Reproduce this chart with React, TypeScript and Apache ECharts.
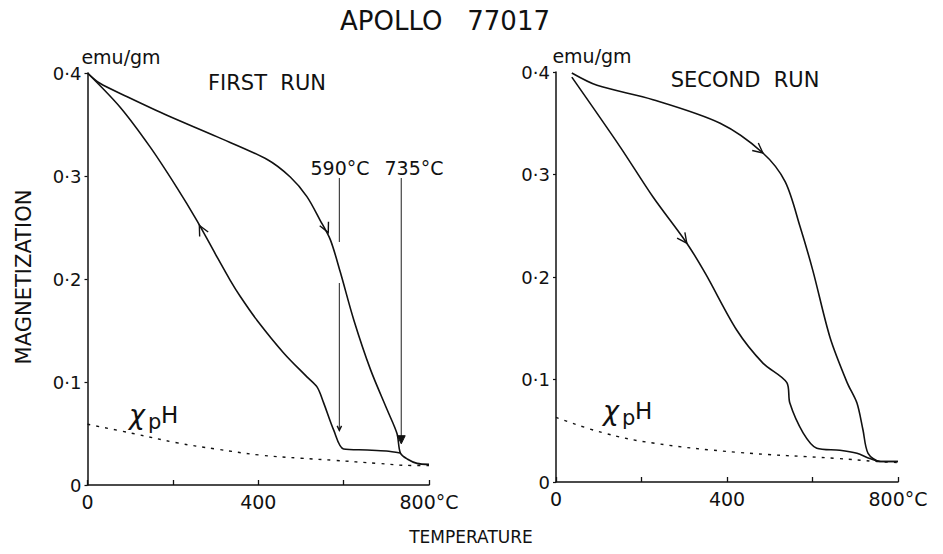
import React, { useEffect, useRef } from "react";
import * as echarts from "echarts";

// ---- axes ----
const tempTicks = [0, 200, 400, 600, 800];
const tempTickLabels = ["0", "", "400", "", "800°C"];
const magTicks = [0, 0.1, 0.2, 0.3, 0.4];
const magTickLabels = ["0", "0·1", "0·2", "0·3", "0·4"];

// ---- FIRST RUN ----
const run1HeatT = [0, 29, 93, 186, 304, 421, 475, 514, 545, 569, 592, 624, 663, 702, 725, 733, 750, 772, 800];
const run1HeatM = [0.4, 0.39, 0.377, 0.359, 0.338, 0.316, 0.299, 0.28, 0.257, 0.238, 0.207, 0.16, 0.112, 0.073, 0.05, 0.031, 0.025, 0.021, 0.02];
const run1CoolT = [0, 76, 147, 209, 256, 300, 334, 358, 397, 460, 514, 538, 553, 577, 600, 655, 700, 733];
const run1CoolM = [0.4, 0.367, 0.328, 0.289, 0.257, 0.224, 0.199, 0.183, 0.16, 0.128, 0.105, 0.095, 0.08, 0.053, 0.035, 0.034, 0.033, 0.031];
const run1ParaT = [0, 107, 209, 300, 405, 500, 577, 680, 757, 800];
const run1ParaM = [0.059, 0.05, 0.041, 0.035, 0.029, 0.026, 0.024, 0.021, 0.019, 0.019];

// Curie point markers (°C) and their vertical extents
const curie590T = 590;
const curie590Segments = [[0.298, 0.236], [0.196, 0.053]];
const curie735T = 735;
const curie735Segment = [0.298, 0.044];

// arrows: [tipT, tipM, tailT, tailM]
const run1Arrows = [
  [564, 0.245, 545, 0.262],
  [262, 0.252, 300, 0.222],
];
const run1SmallArrows = [[590, 0.053, 590, 0.07]];
const run1FilledArrows = [[735, 0.04, 735, 0.062]];

// ---- SECOND RUN ----
const run2HeatT = [37, 96, 227, 384, 484, 536, 571, 601, 641, 681, 704, 718, 730, 758, 800];
const run2HeatM = [0.399, 0.387, 0.373, 0.35, 0.321, 0.293, 0.249, 0.206, 0.141, 0.097, 0.077, 0.051, 0.028, 0.02, 0.02];
const run2CoolT = [37, 150, 227, 306, 350, 423, 484, 540, 547, 578, 610, 664, 704, 734, 760, 800];
const run2CoolM = [0.395, 0.327, 0.278, 0.233, 0.203, 0.148, 0.116, 0.097, 0.077, 0.048, 0.033, 0.031, 0.028, 0.023, 0.02, 0.02];
const run2ParaT = [0, 110, 227, 423, 657, 751, 800];
const run2ParaM = [0.063, 0.048, 0.038, 0.029, 0.023, 0.02, 0.019];
const run2Arrows = [
  [484, 0.321, 440, 0.336],
  [306, 0.233, 227, 0.278],
];

const zip = (xs: number[], ys: number[]) => xs.map((x, i) => [x, ys[i]]);

const FONT = "DejaVu Sans";
const INK = "#111";

function arrowSeries(data: number[][], axis: number, len: number, filled: boolean) {
  return {
    type: "custom",
    xAxisIndex: axis,
    yAxisIndex: axis,
    silent: true,
    z: 5,
    data,
    renderItem: (params: any, api: any) => {
      const tip = api.coord([api.value(0), api.value(1)]);
      const tail = api.coord([api.value(2), api.value(3)]);
      const ang = Math.atan2(tip[1] - tail[1], tip[0] - tail[0]);
      const spread = (26 * Math.PI) / 180;
      const a1 = [tip[0] - len * Math.cos(ang - spread), tip[1] - len * Math.sin(ang - spread)];
      const a2 = [tip[0] - len * Math.cos(ang + spread), tip[1] - len * Math.sin(ang + spread)];
      if (filled) {
        return {
          type: "polygon",
          shape: { points: [a1, tip, a2] },
          style: { fill: INK, stroke: INK, lineWidth: 1 },
        };
      }
      return {
        type: "polyline",
        shape: { points: [a1, tip, a2] },
        style: { fill: "none", stroke: INK, lineWidth: 1.4 },
      };
    },
  };
}

function xAxis(grid: number) {
  return {
    type: "value",
    gridIndex: grid,
    min: 0,
    max: 800,
    interval: 200,
    axisLine: { show: true, lineStyle: { color: INK, width: 1.5 } },
    axisTick: { show: true, inside: true, length: 5, lineStyle: { color: INK, width: 1.3 } },
    splitLine: { show: false },
    axisLabel: {
      color: INK,
      fontFamily: FONT,
      fontSize: 19,
      margin: 7,
      formatter: (v: number) => tempTickLabels[tempTicks.indexOf(v)] ?? "",
    },
  };
}

function yAxis(grid: number) {
  return {
    type: "value",
    gridIndex: grid,
    min: 0,
    max: 0.4,
    interval: 0.1,
    axisLine: { show: true, lineStyle: { color: INK, width: 1.5 } },
    axisTick: { show: true, inside: false, length: 3, lineStyle: { color: INK, width: 1.2 } },
    splitLine: { show: false },
    axisLabel: {
      color: INK,
      fontFamily: FONT,
      fontSize: 18,
      margin: 6,
      formatter: (v: number) => {
        const i = magTicks.findIndex((t) => Math.abs(t - v) < 1e-9);
        return i >= 0 ? magTickLabels[i] : "";
      },
    },
  };
}

const solid = (data: number[][], axis: number) => ({
  type: "line",
  xAxisIndex: axis,
  yAxisIndex: axis,
  data,
  symbol: "none",
  smooth: 0.3,
  silent: true,
  lineStyle: { color: INK, width: 1.6 },
});

const dotted = (data: number[][], axis: number) => ({
  type: "line",
  xAxisIndex: axis,
  yAxisIndex: axis,
  data,
  symbol: "none",
  smooth: 0.4,
  silent: true,
  lineStyle: { color: INK, width: 1.4, type: [3, 6] },
});

const vline = (t: number, segs: number[][], axis: number) => {
  const data: any[] = [];
  segs.forEach((s, i) => {
    if (i > 0) data.push([t, "-"]);
    data.push([t, s[0]], [t, s[1]]);
  });
  return {
    type: "line",
    xAxisIndex: axis,
    yAxisIndex: axis,
    data,
    symbol: "none",
    connectNulls: false,
    silent: true,
    lineStyle: { color: "#333", width: 1.1 },
  };
};

const txt = (text: string, x: number, y: number, size: number, extra: any = {}, styleExtra: any = {}) => ({
  type: "text",
  x,
  y,
  ...extra,
  style: { text, fontFamily: FONT, fontSize: size, fill: INK, align: "center", verticalAlign: "middle", ...styleExtra },
});

const chiLabel = (x: number, y: number) => ({
  type: "group",
  x,
  y,
  children: [
    txt("χ", 0, -2, 27, {}, { align: "left", fontStyle: "italic" }),
    txt("p", 19, 6, 21, {}, { align: "left" }),
    txt("H", 32, -1, 23, {}, { align: "left" }),
  ],
});

export default function App() {
  const ref = useRef<HTMLDivElement>(null);
  useEffect(() => {
    if (!ref.current) return;
    const chart = echarts.init(ref.current, null, { renderer: "svg" });
    chart.setOption({
      animation: false,
      backgroundColor: "#fff",
      grid: [
        { left: 87.5, top: 73, width: 341.5, height: 412 },
        { left: 556, top: 72, width: 342, height: 410 },
      ],
      xAxis: [xAxis(0), xAxis(1)],
      yAxis: [yAxis(0), yAxis(1)],
      series: [
        solid(zip(run1HeatT, run1HeatM), 0),
        solid(zip(run1CoolT, run1CoolM), 0),
        dotted(zip(run1ParaT, run1ParaM), 0),
        vline(curie590T, curie590Segments, 0),
        vline(curie735T, [curie735Segment], 0),
        arrowSeries(run1Arrows, 0, 11, false),
        arrowSeries(run1SmallArrows, 0, 5, false),
        arrowSeries(run1FilledArrows, 0, 9, true),
        solid(zip(run2HeatT, run2HeatM), 1),
        solid(zip(run2CoolT, run2CoolM), 1),
        dotted(zip(run2ParaT, run2ParaM), 1),
        arrowSeries(run2Arrows, 1, 11, false),
      ],
      graphic: [
        txt("APOLLO   77017", 445, 21, 26),
        txt("emu/gm", 121, 57, 19),
        txt("emu/gm", 592, 56, 19),
        txt("FIRST  RUN", 267, 83, 21),
        txt("SECOND  RUN", 745, 80, 21),
        txt("590°C", 340, 168, 19),
        txt("735°C", 414, 168, 19),
        txt("MAGNETIZATION", 24, 277, 21, { rotation: Math.PI / 2 }),
        txt("TEMPERATURE", 471, 537, 17),
        chiLabel(129, 416),
        chiLabel(603, 412),
      ],
    });
    return () => chart.dispose();
  }, []);
  return (
    <div
      ref={ref}
      style={{ position: "fixed", left: 0, top: 0, width: 943, height: 554, background: "#fff" }}
    />
  );
}
